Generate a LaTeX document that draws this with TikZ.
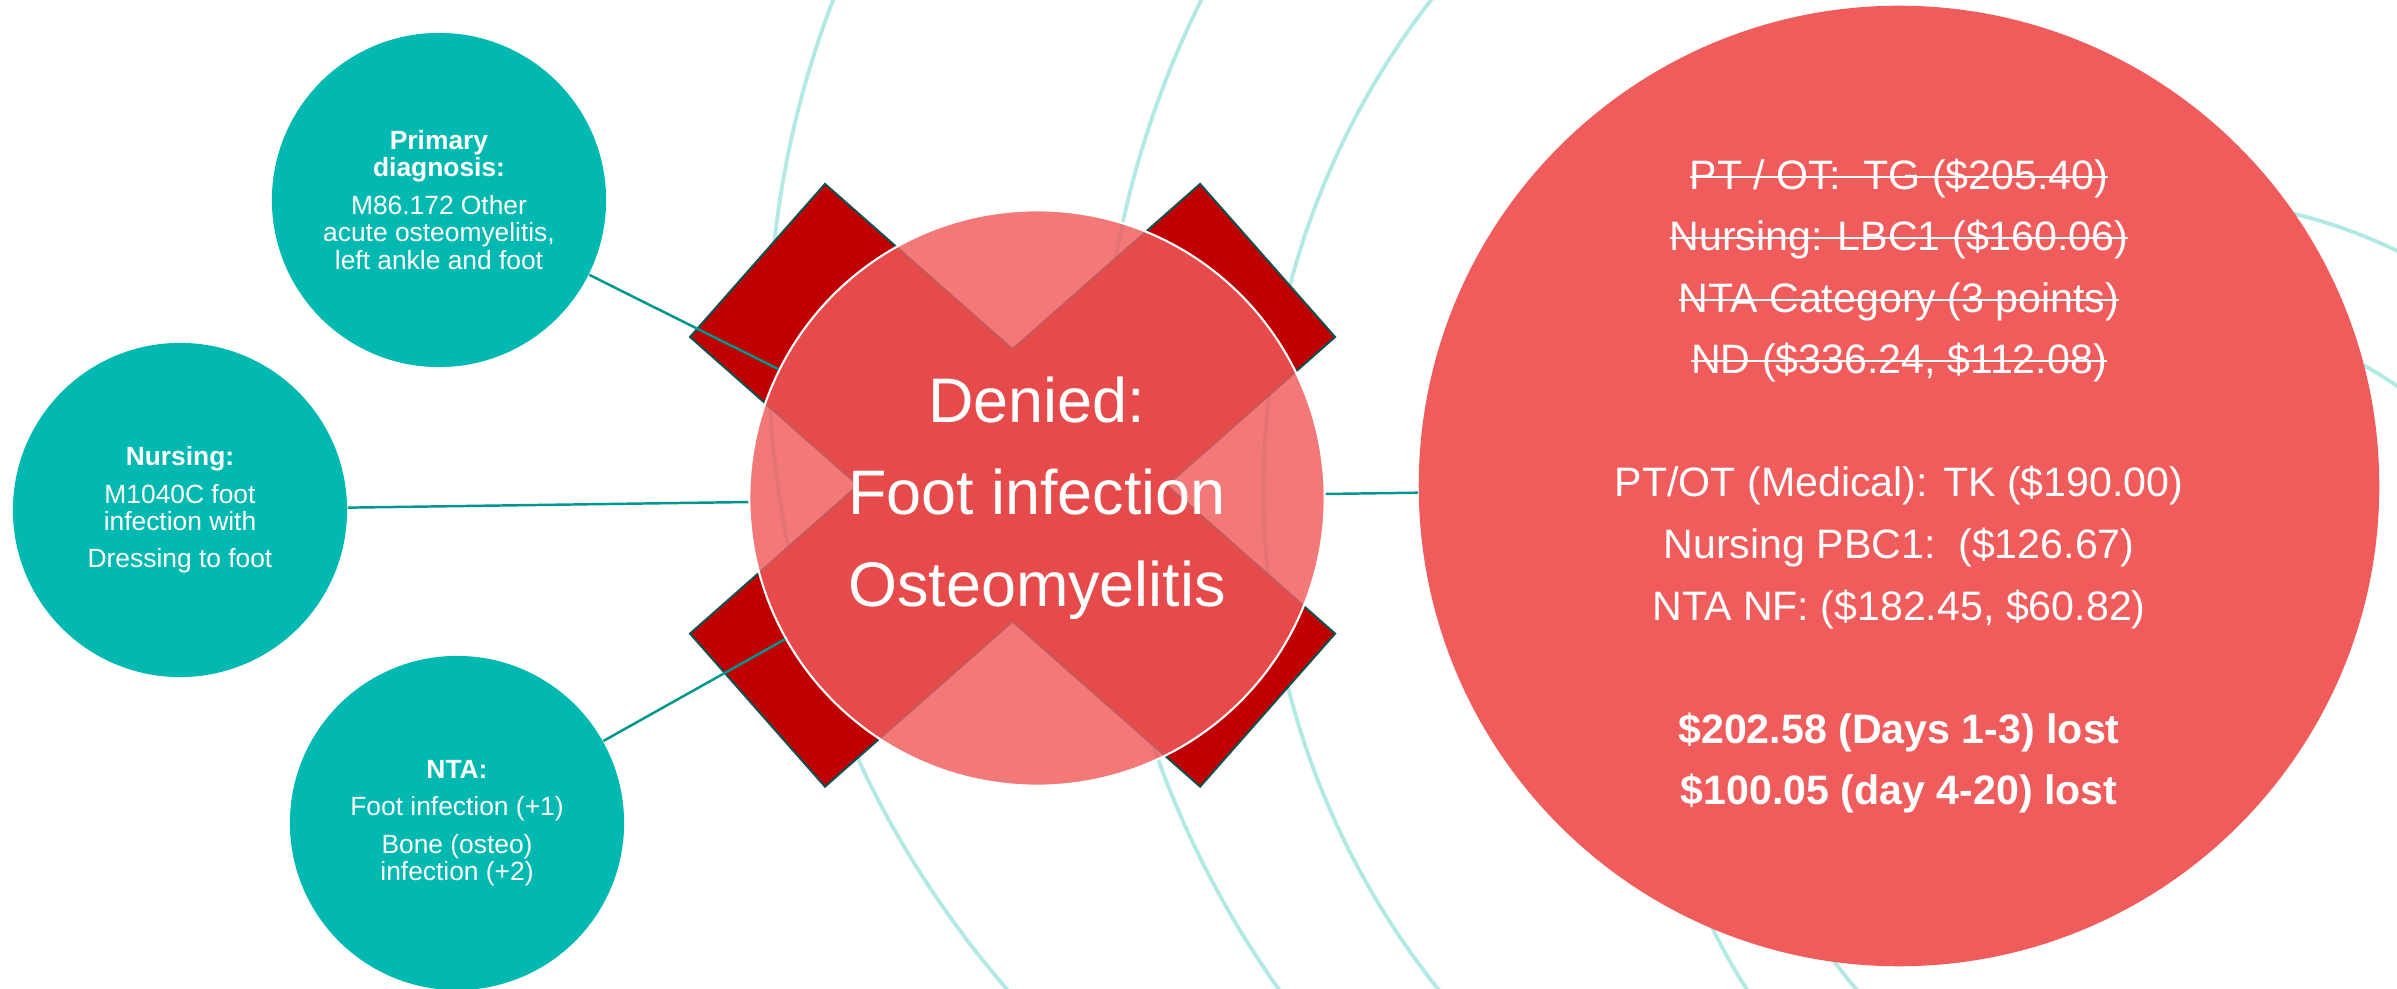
\documentclass[tikz,border=0pt]{standalone}
\usepackage{fontspec}
\setmainfont{Liberation Sans}

\definecolor{codeteal}{RGB}{2,185,177}
\definecolor{linkteal}{RGB}{0,150,143}
\definecolor{rippleteal}{RGB}{178,233,229}
\definecolor{lossred}{RGB}{240,91,91}
\definecolor{crossred}{RGB}{192,0,0}
\definecolor{crossedge}{RGB}{22,78,78}

\newsavebox{\strikebox}
\newcommand{\strikeline}[1]{\sbox{\strikebox}{#1}\rlap{\rule[0.28em]{\wd\strikebox}{0.55pt}}\usebox{\strikebox}}

\begin{document}
\begin{tikzpicture}[
    x=0.01cm, y=-0.01cm,
    codebox/.style={circle, fill=codeteal, text=white, inner sep=0pt, minimum size=3.34cm, align=center, font=\fontsize{7.5}{7.8}\selectfont},
    deniedbox/.style={circle, fill=lossred, fill opacity=0.82, text opacity=1, draw=white, line width=0.6pt, text=white, inner sep=0pt, minimum size=5.75cm, align=center, font=\fontsize{17.9}{26.2}\selectfont},
    lossbox/.style={circle, fill=lossred, text=white, inner sep=0pt, minimum size=9.6cm, align=center, font=\fontsize{11.7}{17.5}\selectfont},
    ripple/.style={draw=rippleteal, line width=1.1pt},
    link/.style={draw=linkteal, line width=0.7pt},
    cross/.style={fill=crossred, draw=crossedge, line width=0.6pt, line join=miter}
]
\useasboundingbox (0,0) rectangle (2397,989);

\begin{scope}
\clip (0,0) rectangle (2397,989);
\draw[ripple] (1744,350) circle[radius=9.75cm];
\draw[ripple] (2066,430) circle[radius=9.65cm];
\draw[ripple] (2064,490) circle[radius=8.00cm];
\draw[ripple] (2174,710) circle[radius=5.10cm];
\draw[ripple] (2165,722) circle[radius=4.08cm];
\end{scope}

\draw[cross] (1012.5,349.3) -- (1200.1,184.0) -- (1335.0,337.0) -- (1166.7,485.3)
    -- (1335.0,633.6) -- (1200.1,786.6) -- (1012.5,621.3) -- (825.0,786.6)
    -- (690.1,633.6) -- (858.3,485.3) -- (690.1,337.0) -- (825.0,184.0) -- cycle;

\node[codebox] (primary) at (439,200) {\textbf{Primary}\\\textbf{diagnosis:}\\[2.85pt]M86.172 Other\\acute osteomyelitis,\\left ankle and foot};
\node[codebox] (nursing) at (180,510) {\textbf{Nursing:}\\[2.85pt]M1040C foot\\infection with\\[2.85pt]Dressing to foot};
\node[codebox] (nta) at (457,823) {\textbf{NTA:}\\[2.85pt]Foot infection (+1)\\[2.85pt]Bone (osteo)\\infection (+2)};

\node[deniedbox] (denied) at (1037,498) {Denied:\\Foot infection\\Osteomyelitis};

\node[lossbox] (loss) at (1899,486) {\strikeline{PT / OT:\ \ TG (\$205.40)}\\
    \strikeline{Nursing: LBC1 (\$160.06)}\\
    \strikeline{NTA Category (3 points)}\\
    \strikeline{ND (\$336.24, \$112.08)}\\[17.5pt]
    PT/OT (Medical): TK (\$190.00)\\
    Nursing PBC1:\ \ (\$126.67)\\
    NTA NF: (\$182.45, \$60.82)\\[17.5pt]
    \textbf{\$202.58 (Days 1-3) lost}\\
    \textbf{\$100.05 (day 4-20) lost}};

\draw[link] (primary) -- (denied);
\draw[link] (nursing) -- (denied);
\draw[link] (nta) -- (denied);
\draw[link] (denied) -- (loss);

\end{tikzpicture}
\end{document}
